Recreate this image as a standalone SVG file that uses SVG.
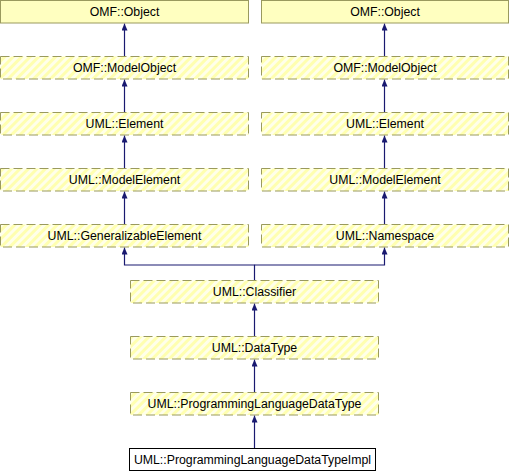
<svg xmlns="http://www.w3.org/2000/svg" width="510" height="472" viewBox="0 0 510 472">
<style>
.t{font-family:"Liberation Sans",Arial,sans-serif;font-size:12.3px;fill:#000;text-anchor:middle}
.solid{fill:#ffffc0;stroke:#9a9a5e;stroke-width:1}
.hatch{fill:url(#hp);stroke:#9a9a5e;stroke-width:1;stroke-dasharray:9,4}
.impl{fill:#fff;stroke:#000;stroke-width:1}
.c{fill:none;stroke:#191970;stroke-width:1.2;marker-end:url(#ah)}
</style>
<defs>
<pattern id="hp" patternUnits="userSpaceOnUse" width="6" height="6" patternTransform="rotate(45)">
<rect width="6" height="6" fill="#ffffea"/>
<rect width="3" height="6" fill="#ffffb0"/>
</pattern>
<marker id="ah" markerUnits="userSpaceOnUse" markerWidth="8" markerHeight="8" refX="7" refY="3" orient="auto">
<path d="M0,0 L7,3 L0,6 z" fill="#191970"/>
</marker>
</defs>
<g id="connectors">
<path class="c" d="M124.5,56 V23.5"/>
<path class="c" d="M124.5,112 V79.5"/>
<path class="c" d="M124.5,168 V135.5"/>
<path class="c" d="M124.5,224 V191.5"/>
<path class="c" d="M384.5,56 V23.5"/>
<path class="c" d="M384.5,112 V79.5"/>
<path class="c" d="M384.5,168 V135.5"/>
<path class="c" d="M384.5,224 V191.5"/>
<path class="c" d="M254.5,280 V265 H124.5 V247.5"/>
<path class="c" d="M254.5,265 H384.5 V247.5"/>
<path class="c" d="M254.5,336 V303.5"/>
<path class="c" d="M254.5,392 V359.5"/>
<path class="c" d="M254.5,448 V415.5"/>
</g>
<g id="omf_object_l"><rect class="solid" x="0.5" y="0.5" width="248" height="22.5"/><text class="t" x="124.5" y="16">OMF::Object</text></g>
<g id="omf_object_r"><rect class="solid" x="261.5" y="0.5" width="247" height="22.5"/><text class="t" x="385" y="16">OMF::Object</text></g>
<g id="omf_modelobject_l"><rect class="hatch" x="0.5" y="56.5" width="248" height="22.5"/><text class="t" x="124.5" y="72">OMF::ModelObject</text></g>
<g id="omf_modelobject_r"><rect class="hatch" x="261.5" y="56.5" width="247" height="22.5"/><text class="t" x="385" y="72">OMF::ModelObject</text></g>
<g id="uml_element_l"><rect class="hatch" x="0.5" y="112.5" width="248" height="22.5"/><text class="t" x="124.5" y="128">UML::Element</text></g>
<g id="uml_element_r"><rect class="hatch" x="261.5" y="112.5" width="247" height="22.5"/><text class="t" x="385" y="128">UML::Element</text></g>
<g id="uml_modelelement_l"><rect class="hatch" x="0.5" y="168.5" width="248" height="22.5"/><text class="t" x="124.5" y="184">UML::ModelElement</text></g>
<g id="uml_modelelement_r"><rect class="hatch" x="261.5" y="168.5" width="247" height="22.5"/><text class="t" x="385" y="184">UML::ModelElement</text></g>
<g id="uml_generalizableelement"><rect class="hatch" x="0.5" y="224.5" width="248" height="22.5"/><text class="t" x="124.5" y="240">UML::GeneralizableElement</text></g>
<g id="uml_namespace"><rect class="hatch" x="261.5" y="224.5" width="247" height="22.5"/><text class="t" x="385" y="240">UML::Namespace</text></g>
<g id="uml_classifier"><rect class="hatch" x="130.5" y="280.5" width="248" height="22.5"/><text class="t" x="254.5" y="296">UML::Classifier</text></g>
<g id="uml_datatype"><rect class="hatch" x="130.5" y="336.5" width="248" height="22.5"/><text class="t" x="254.5" y="352">UML::DataType</text></g>
<g id="uml_programminglanguagedatatype"><rect class="hatch" x="130.5" y="392.5" width="248" height="22.5"/><text class="t" x="254.5" y="408">UML::ProgrammingLanguageDataType</text></g>
<g id="uml_programminglanguagedatatypeimpl"><rect class="impl" x="129.5" y="448.5" width="246" height="22"/><text class="t" x="252.5" y="464">UML::ProgrammingLanguageDataTypeImpl</text></g>
</svg>
